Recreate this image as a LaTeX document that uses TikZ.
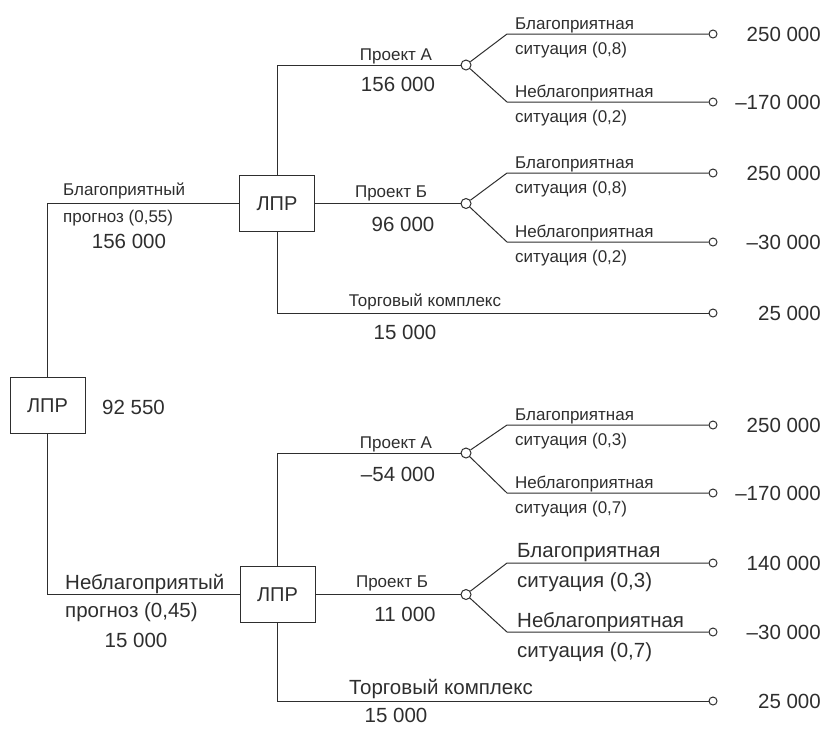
\documentclass[tikz,border=0pt]{standalone}
\usepackage{fontspec}
\setmainfont{Liberation Sans}
\definecolor{ink}{HTML}{2E2E2E}
\tikzset{
  wire/.style={draw=ink, line width=1pt},
  lprbox/.style={draw=ink, line width=1pt, minimum width=75pt, minimum height=56pt, inner sep=0pt, font=\fontsize{20}{24}\selectfont, text=ink},
  chance/.style={circle, draw=ink, fill=white, line width=1pt, minimum size=10pt, inner sep=0pt},
  endc/.style={circle, draw=ink, fill=white, line width=1pt, minimum size=8pt, inner sep=0pt},
  lbl/.style={inner sep=0pt, text=ink, font=\fontsize{17}{20}\selectfont},
  biglbl/.style={inner sep=0pt, text=ink, font=\fontsize{20.5}{24}\selectfont},
  num/.style={inner sep=0pt, text=ink, font=\fontsize{20.5}{24}\selectfont},
}
\begin{document}
\begin{tikzpicture}[x=1pt,y=-1pt]
\useasboundingbox (0,0) rectangle (824,729);

% decision nodes
\node[lprbox] (root) at (47.5,405.5) {ЛПР};
\node[num, anchor=west] (rootv) at (102,407) {92 550};
\node[lprbox] (lprA) at (277,203.5) {ЛПР};
\node[lprbox] (lprB) at (277.5,594.5) {ЛПР};

% chance nodes
\node[chance] (cA1) at (466,65) {};
\node[chance] (cB1) at (466,203.5) {};
\node[chance] (cA2) at (466,453) {};
\node[chance] (cB2) at (466,594.5) {};

% fork points
\coordinate (fA1u) at (507,34);
\coordinate (fA1d) at (507,102);
\coordinate (fB1u) at (507,173);
\coordinate (fB1d) at (507,242);
\coordinate (fA2u) at (507,425);
\coordinate (fA2d) at (507,493);
\coordinate (fB2u) at (507,563);
\coordinate (fB2d) at (507,632);

% end nodes
\node[endc] (eA1u) at (713,34) {};
\node[endc] (eA1d) at (713,102) {};
\node[endc] (eB1u) at (713,173) {};
\node[endc] (eB1d) at (713,242) {};
\node[endc] (eT1) at (713,313) {};
\node[endc] (eA2u) at (713,425) {};
\node[endc] (eA2d) at (713,493) {};
\node[endc] (eB2u) at (713,563) {};
\node[endc] (eB2d) at (713,632) {};
\node[endc] (eT2) at (713,701) {};

% connectors
\draw[wire] (root.north) |- (lprA.west);
\draw[wire] (root.south) |- (lprB.west);
\draw[wire] (lprA.north) |- (cA1.west);
\draw[wire] (lprA.east) -- (cB1.west);
\draw[wire] (lprA.south) |- (eT1.west);
\draw[wire] (lprB.north) |- (cA2.west);
\draw[wire] (lprB.east) -- (cB2.west);
\draw[wire] (lprB.south) |- (eT2.west);
\draw[wire] (cA1) -- (fA1u) -- (eA1u);
\draw[wire] (cA1) -- (fA1d) -- (eA1d);
\draw[wire] (cB1) -- (fB1u) -- (eB1u);
\draw[wire] (cB1) -- (fB1d) -- (eB1d);
\draw[wire] (cA2) -- (fA2u) -- (eA2u);
\draw[wire] (cA2) -- (fA2d) -- (eA2d);
\draw[wire] (cB2) -- (fB2u) -- (eB2u);
\draw[wire] (cB2) -- (fB2d) -- (eB2d);

% left branch labels
\node[lbl, anchor=base west] (lt1) at (63,195) {Благоприятный};
\node[lbl, anchor=base west] (lt2) at (63,222) {прогноз (0,55)};
\node[num, anchor=base] (lt3) at (129,248) {156 000};
\node[biglbl, anchor=base west] (lb1) at (65,589) {Неблагоприятый};
\node[biglbl, anchor=base west] (lb2) at (65,617) {прогноз (0,45)};
\node[num, anchor=base] (lb3) at (136,647) {15 000};

% project labels (top)
\node[lbl, anchor=base] (pA1) at (396,60) {Проект А};
\node[num, anchor=base] (vA1) at (398,91) {156 000};
\node[lbl, anchor=base] (pB1) at (391,197) {Проект Б};
\node[num, anchor=base] (vB1) at (403,231) {96 000};
\node[lbl, anchor=base] (pT1) at (425,306) {Торговый комплекс};
\node[num, anchor=base] (vT1) at (405,339) {15 000};

% project labels (bottom)
\node[lbl, anchor=base] (pA2) at (396,448) {Проект А};
\node[num, anchor=base] (vA2) at (398,481) {–54 000};
\node[lbl, anchor=base] (pB2) at (392,587) {Проект Б};
\node[num, anchor=base] (vB2) at (405,621) {11 000};
\node[biglbl, anchor=base] (pT2) at (441,694) {Торговый комплекс};
\node[num, anchor=base] (vT2) at (396,722) {15 000};

% situation labels (top)
\node[lbl, anchor=base west] (sA1a) at (515,29) {Благоприятная};
\node[lbl, anchor=base west] (sA1b) at (515,54) {ситуация (0,8)};
\node[lbl, anchor=base west] (sA1c) at (515,97) {Неблагоприятная};
\node[lbl, anchor=base west] (sA1d) at (515,122) {ситуация (0,2)};
\node[lbl, anchor=base west] (sB1a) at (515,168) {Благоприятная};
\node[lbl, anchor=base west] (sB1b) at (515,193) {ситуация (0,8)};
\node[lbl, anchor=base west] (sB1c) at (515,237) {Неблагоприятная};
\node[lbl, anchor=base west] (sB1d) at (515,262) {ситуация (0,2)};

% situation labels (bottom)
\node[lbl, anchor=base west] (sA2a) at (515,420) {Благоприятная};
\node[lbl, anchor=base west] (sA2b) at (515,445) {ситуация (0,3)};
\node[lbl, anchor=base west] (sA2c) at (515,488) {Неблагоприятная};
\node[lbl, anchor=base west] (sA2d) at (515,513) {ситуация (0,7)};
\node[biglbl, anchor=base west] (sB2a) at (517,557) {Благоприятная};
\node[biglbl, anchor=base west] (sB2b) at (517,587) {ситуация (0,3)};
\node[biglbl, anchor=base west] (sB2c) at (517,627) {Неблагоприятная};
\node[biglbl, anchor=base west] (sB2d) at (517,657) {ситуация (0,7)};

% outcome values
\node[num, anchor=east] (oA1u) at (821,34) {250 000};
\node[num, anchor=east] (oA1d) at (821,102) {–170 000};
\node[num, anchor=east] (oB1u) at (821,173) {250 000};
\node[num, anchor=east] (oB1d) at (821,242) {–30 000};
\node[num, anchor=east] (oT1) at (821,313) {25 000};
\node[num, anchor=east] (oA2u) at (821,425) {250 000};
\node[num, anchor=east] (oA2d) at (821,493) {–170 000};
\node[num, anchor=east] (oB2u) at (821,563) {140 000};
\node[num, anchor=east] (oB2d) at (821,632) {–30 000};
\node[num, anchor=east] (oT2) at (821,701) {25 000};
\end{tikzpicture}
\end{document}
